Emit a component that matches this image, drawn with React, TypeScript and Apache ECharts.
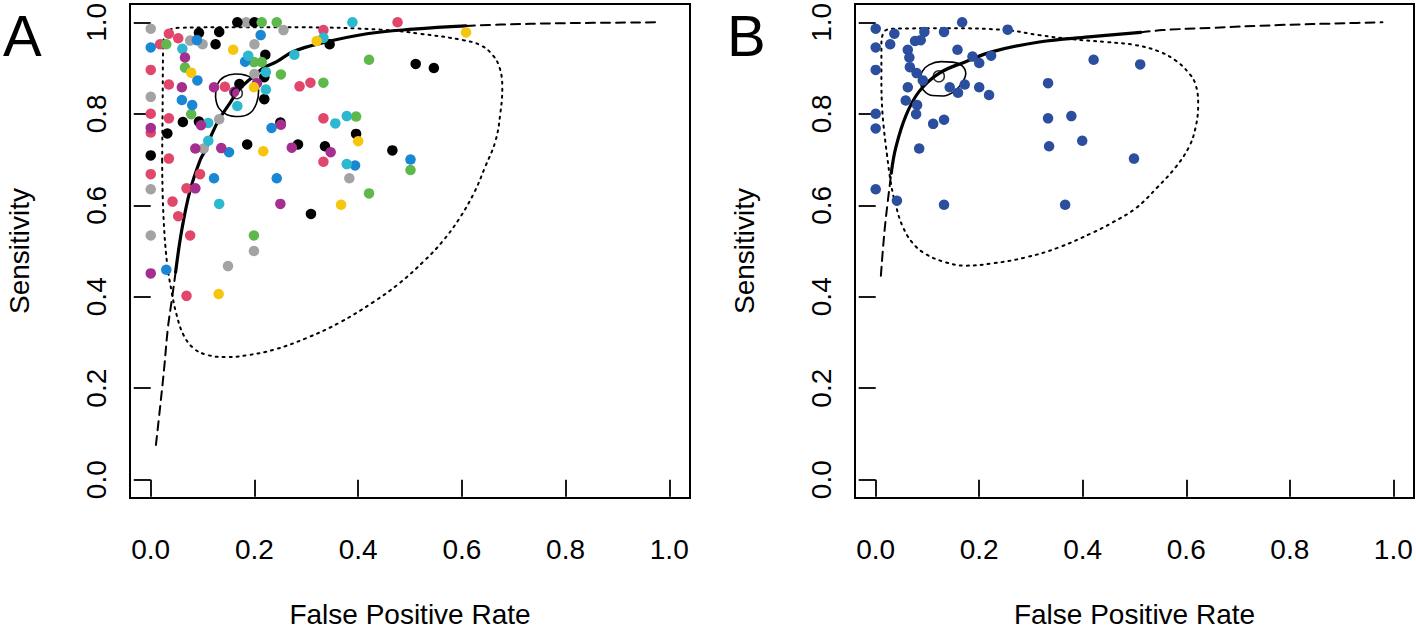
import React, { useEffect, useRef } from "react";
import * as echarts from "echarts";

const FONT = "'Liberation Sans', Arial, Helvetica, sans-serif";
const tickValues = [0, 0.2, 0.4, 0.6, 0.8, 1.0];
const xTitle = "False Positive Rate";
const yTitle = "Sensitivity";
const panelLabels = ["A", "B"];

// ---- Panel A: study estimates (FPR, sensitivity) grouped by colour ----
const redA = [[0.035,0.975],[0.053,0.965],[0.018,0.952],[0,0.896],[0.035,0.864],[0,0.8],[0.035,0.79],[0,0.759],[0.035,0.702],[0,0.668],[0.095,0.668],[0.069,0.637],[0.042,0.608],[0.053,0.576],[0.076,0.534],[0.069,0.402],[0.143,0.859],[0.287,0.86],[0.308,0.868],[0.333,0.983],[0.476,1.0],[0.333,0.79],[0.333,0.695]];
const grayA = [[0,0.986],[0.184,1.0],[0.256,0.983],[0.076,0.96],[0.1,0.952],[0.2,0.952],[0.2,0.887],[0,0.837],[0.132,0.788],[0.102,0.724],[0,0.635],[0,0.534],[0.199,0.5],[0.149,0.467],[0.383,0.659]];
const blackA = [[0.167,1.0],[0.2,1.0],[0.093,0.977],[0.132,0.979],[0.125,0.952],[0.221,0.929],[0.219,0.88],[0.171,0.865],[0.219,0.832],[0.062,0.782],[0.093,0.783],[0.032,0.757],[0.25,0.781],[0.186,0.733],[0.284,0.733],[0,0.709],[0.345,0.952],[0.511,0.909],[0.546,0.9],[0.396,0.756],[0.336,0.729],[0.466,0.72],[0.309,0.581]];
const greenA = [[0.214,1.0],[0.243,1.0],[0.03,0.952],[0.066,0.901],[0.199,0.913],[0.214,0.913],[0.251,0.886],[0.078,0.799],[0.421,0.918],[0.333,0.868],[0.396,0.794],[0.501,0.677],[0.421,0.626],[0.199,0.534]];
const blueA = [[0,0.945],[0.089,0.961],[0.212,0.972],[0.182,0.914],[0.09,0.873],[0.06,0.83],[0.08,0.819],[0.233,0.769],[0.151,0.716],[0.122,0.659],[0.243,0.659],[0.03,0.459],[0.394,0.687],[0.501,0.7]];
const cyanA = [[0.061,0.942],[0.188,0.927],[0.222,0.891],[0.277,0.929],[0.222,0.853],[0.167,0.817],[0.111,0.78],[0.111,0.741],[0.389,1.0],[0.333,0.966],[0.356,0.779],[0.378,0.795],[0.378,0.69],[0.132,0.603]];
const magentaA = [[0.066,0.923],[0.06,0.858],[0.122,0.858],[0.161,0.848],[0.205,0.867],[0,0.769],[0.097,0.775],[0.251,0.776],[0.086,0.724],[0.136,0.725],[0.272,0.726],[0.347,0.716],[0.086,0.637],[0.25,0.603],[0,0.451]];
const yellowA = [[0.159,0.94],[0.078,0.89],[0.199,0.858],[0.217,0.718],[0.32,0.959],[0.608,0.978],[0.4,0.74],[0.367,0.601],[0.131,0.406]];

// ---- Panel A: SROC curve, summary point, confidence & prediction regions ----
const srocSolidA = [[0.048,0.454],[0.06,0.547],[0.076,0.633],[0.095,0.698],[0.105,0.72],[0.118,0.756],[0.132,0.788],[0.153,0.824],[0.172,0.855],[0.198,0.882],[0.217,0.9],[0.243,0.914],[0.275,0.936],[0.327,0.954],[0.417,0.975],[0.507,0.985],[0.608,0.992]];
const srocLowA = [[0.01,0.076],[0.018,0.158],[0.026,0.245],[0.033,0.331],[0.041,0.396],[0.048,0.454]];
const srocHighA = [[0.608,0.992],[0.674,0.995],[0.79,0.998],[0.983,1.0]];
const summaryA = [[0.166,0.845]];
const confA = [[0.125,0.837],[0.129,0.865],[0.142,0.881],[0.163,0.887],[0.184,0.884],[0.201,0.873],[0.208,0.85],[0.204,0.823],[0.192,0.802],[0.17,0.794],[0.147,0.798],[0.131,0.813],[0.125,0.837]];
const predA = [[0.022,0.698],[0.023,0.828],[0.024,0.947],[0.03,0.977],[0.053,0.988],[0.134,0.989],[0.288,0.989],[0.443,0.984],[0.52,0.975],[0.603,0.961],[0.636,0.95],[0.659,0.929],[0.673,0.9],[0.678,0.857],[0.674,0.799],[0.665,0.741],[0.645,0.684],[0.623,0.626],[0.594,0.569],[0.562,0.52],[0.527,0.478],[0.48,0.43],[0.43,0.389],[0.365,0.344],[0.301,0.31],[0.237,0.284],[0.185,0.272],[0.147,0.268],[0.108,0.273],[0.082,0.288],[0.063,0.317],[0.05,0.36],[0.041,0.407],[0.031,0.478],[0.024,0.59],[0.022,0.698]];

// ---- Panel B ----
const studiesB = [[0,0.986],[0.167,1.0],[0.036,0.975],[0.094,0.979],[0.132,0.979],[0.255,0.984],[0.076,0.959],[0.087,0.961],[0,0.945],[0.028,0.952],[0.062,0.94],[0.065,0.923],[0.158,0.94],[0.187,0.925],[0.2,0.911],[0.223,0.927],[0,0.896],[0.066,0.902],[0.079,0.889],[0.091,0.873],[0.062,0.858],[0.143,0.858],[0.159,0.846],[0.172,0.864],[0.2,0.858],[0.219,0.841],[0.058,0.829],[0.08,0.819],[0.078,0.799],[0,0.8],[0,0.768],[0.111,0.778],[0.132,0.787],[0.084,0.724],[0.333,0.867],[0.421,0.918],[0.333,0.79],[0.378,0.795],[0.335,0.729],[0.399,0.741],[0.499,0.702],[0.511,0.908],[0,0.635],[0.041,0.61],[0.132,0.601],[0.366,0.601]];
const srocSolidB = [[0.03,0.67],[0.039,0.727],[0.058,0.795],[0.084,0.849],[0.123,0.889],[0.174,0.914],[0.226,0.936],[0.316,0.957],[0.412,0.968],[0.512,0.978]];
const srocLowB = [[0.01,0.446],[0.015,0.518],[0.02,0.576],[0.03,0.67]];
const srocHighB = [[0.512,0.978],[0.554,0.983],[0.65,0.988],[0.779,0.994],[0.908,0.998],[0.979,1.0]];
const summaryB = [[0.122,0.882]];
const confB = [[0.086,0.871],[0.09,0.893],[0.103,0.907],[0.126,0.914],[0.148,0.913],[0.167,0.905],[0.174,0.888],[0.167,0.868],[0.152,0.849],[0.13,0.839],[0.109,0.84],[0.092,0.852],[0.086,0.871]];
const predB = [[0.022,0.709],[0.013,0.803],[0.011,0.89],[0.011,0.947],[0.015,0.977],[0.03,0.986],[0.142,0.987],[0.252,0.983],[0.316,0.972],[0.38,0.963],[0.445,0.957],[0.503,0.95],[0.548,0.936],[0.58,0.916],[0.605,0.889],[0.618,0.864],[0.623,0.821],[0.618,0.77],[0.605,0.727],[0.58,0.684],[0.544,0.639],[0.503,0.594],[0.457,0.562],[0.419,0.54],[0.354,0.508],[0.29,0.486],[0.226,0.473],[0.174,0.468],[0.136,0.475],[0.097,0.493],[0.071,0.518],[0.052,0.554],[0.04,0.595],[0.03,0.644],[0.022,0.709]];

const groupsA = [
  { name: "red", color: "#E0476B", data: redA },
  { name: "gray", color: "#A3A3A3", data: grayA },
  { name: "black", color: "#000000", data: blackA },
  { name: "green", color: "#5FB84C", data: greenA },
  { name: "blue", color: "#1A87D5", data: blueA },
  { name: "cyan", color: "#2CB9CF", data: cyanA },
  { name: "magenta", color: "#A52E8E", data: magentaA },
  { name: "yellow", color: "#F6C60F", data: yellowA },
];

function mkX(gridIndex: number) {
  return {
    type: "value", gridIndex, min: -0.04, max: 1.04,
    axisLine: { show: false }, splitLine: { show: false },
    axisTick: { show: true, customValues: tickValues, length: 17, lineStyle: { color: "#000", width: 1.8 } },
    axisLabel: { customValues: tickValues, formatter: (v: number) => v.toFixed(1), fontSize: 28, color: "#000", fontFamily: FONT, margin: 37 },
    name: xTitle, nameLocation: "middle", nameGap: 102,
    nameTextStyle: { fontSize: 28, color: "#000", fontFamily: FONT },
  };
}
function mkY(gridIndex: number) {
  return {
    type: "value", gridIndex, min: -0.04, max: 1.04,
    axisLine: { show: false }, splitLine: { show: false },
    axisTick: { show: true, customValues: tickValues, length: 17, lineStyle: { color: "#000", width: 1.8 } },
    axisLabel: { customValues: tickValues, formatter: (v: number) => v.toFixed(1), fontSize: 28, color: "#000", fontFamily: FONT, margin: 20, rotate: 90 },
    name: yTitle, nameLocation: "middle", nameGap: 97,
    nameTextStyle: { fontSize: 28, color: "#000", fontFamily: FONT },
  };
}
function line(data: number[][], g: number, type: any, width: number) {
  return {
    type: "line", xAxisIndex: g, yAxisIndex: g, data, smooth: 0.4, symbol: "none", silent: true, z: 2,
    lineStyle: { color: "#000", width, type, cap: "round" },
  };
}
function dots(data: number[][], g: number, color: string) {
  return {
    type: "scatter", xAxisIndex: g, yAxisIndex: g, data, symbol: "circle", symbolSize: 10.5, z: 3, silent: true,
    itemStyle: { color, opacity: 1 },
  };
}
function summary(data: number[][], g: number) {
  return {
    type: "scatter", xAxisIndex: g, yAxisIndex: g, data, symbol: "circle", symbolSize: 11, z: 4, silent: true,
    itemStyle: { color: "transparent", borderColor: "#000", borderWidth: 1.5 },
  };
}

export default function App() {
  const ref = useRef<HTMLDivElement>(null);
  useEffect(() => {
    document.body.style.margin = "0";
    const chart = echarts.init(ref.current!, null, { renderer: "svg" });
    const series: any[] = [];
    series.push(line(predA, 0, [2, 5], 2));
    series.push(line(srocLowA, 0, [9, 6], 2));
    series.push(line(srocHighA, 0, [9, 6], 2));
    series.push(line(srocSolidA, 0, "solid", 3.2));
    series.push(line(confA, 0, "solid", 1.6));
    groupsA.forEach((g) => series.push(dots(g.data, 0, g.color)));
    series.push(summary(summaryA, 0));

    series.push(line(predB, 1, [2, 5], 2));
    series.push(line(srocLowB, 1, [9, 6], 2));
    series.push(line(srocHighB, 1, [9, 6], 2));
    series.push(line(srocSolidB, 1, "solid", 3.2));
    series.push(line(confB, 1, "solid", 1.6));
    series.push(dots(studiesB, 1, "#2B4E9F"));
    series.push(summary(summaryB, 1));

    chart.setOption({
      animation: false,
      backgroundColor: "#fff",
      grid: [
        { left: 130, top: 2, width: 560, height: 500, show: true, borderColor: "#000", borderWidth: 2, backgroundColor: "transparent" },
        { left: 855, top: 2, width: 559, height: 500, show: true, borderColor: "#000", borderWidth: 2, backgroundColor: "transparent" },
      ],
      xAxis: [mkX(0), mkX(1)],
      yAxis: [mkY(0), mkY(1)],
      graphic: [
        { type: "text", left: 3, top: 6, style: { text: panelLabels[0], fontSize: 58, fill: "#000", fontFamily: FONT } },
        { type: "text", left: 727, top: 6, style: { text: panelLabels[1], fontSize: 58, fill: "#000", fontFamily: FONT } },
      ],
      series,
    });
    return () => chart.dispose();
  }, []);
  return <div ref={ref} style={{ width: 1416, height: 633 }} />;
}
